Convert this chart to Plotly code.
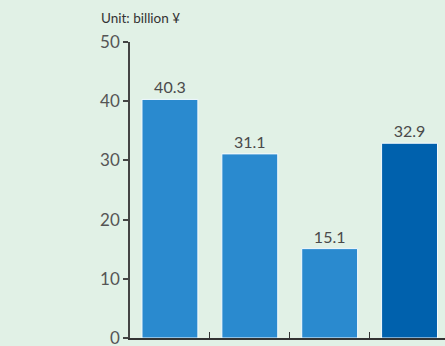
import plotly.graph_objects as go

categories = ["'07", "'08", "'09", "'10"]
values = [40.3, 31.1, 15.1, 32.9]
bar_colors = ["#2a8acf", "#2a8acf", "#2a8acf", "#0061ad"]
y_ticks = [0, 10, 20, 30, 40, 50]

fig = go.Figure()
fig.add_trace(go.Bar(
    x=categories, y=values,
    marker=dict(color=bar_colors, line=dict(color="#f4fbff", width=1)),
    text=[f"{v:.1f}" for v in values], textposition="outside",
    textfont=dict(family="Lato, DejaVu Sans", size=16, color="#4a4a4a"),
    cliponaxis=False, width=0.7, hoverinfo="skip",
))

fig.update_layout(
    width=445, height=346,
    margin=dict(l=129.5, r=0, t=42, b=8, autoexpand=False),
    paper_bgcolor="#e1f1e6", plot_bgcolor="#e1f1e6",
    showlegend=False,
    font=dict(family="Lato, DejaVu Sans", color="#444444"),
    xaxis=dict(
        type="category", range=[-0.5, 3.444],
        showline=True, linecolor="#333333", linewidth=2,
        ticks="inside", tickson="boundaries", ticklen=6, tickcolor="#333333", tickwidth=1,
        showgrid=False, automargin=False, ticklabeloverflow="allow",
        tickfont=dict(size=16, color="#444444"),
    ),
    yaxis=dict(
        range=[0, 50], tickvals=y_ticks,
        showline=True, linecolor="#444444", linewidth=1.5,
        ticks="outside", ticklen=5, tickcolor="#444444", tickwidth=1.5,
        showgrid=False, zeroline=False, automargin=False, ticklabeloverflow="allow",
        tickfont=dict(size=17, color="#555555"),
    ),
    annotations=[dict(
        text="Unit: billion ¥", xref="paper", yref="paper",
        x=-0.1, y=1.0, yshift=24, xanchor="left", yanchor="middle",
        showarrow=False, font=dict(family="Lato, DejaVu Sans", size=13.5, color="#333333"),
    )],
)

fig.write_html("out.html", config={"displayModeBar": False},
               post_script="document.body.style.margin='0';document.body.style.overflow='hidden';")
